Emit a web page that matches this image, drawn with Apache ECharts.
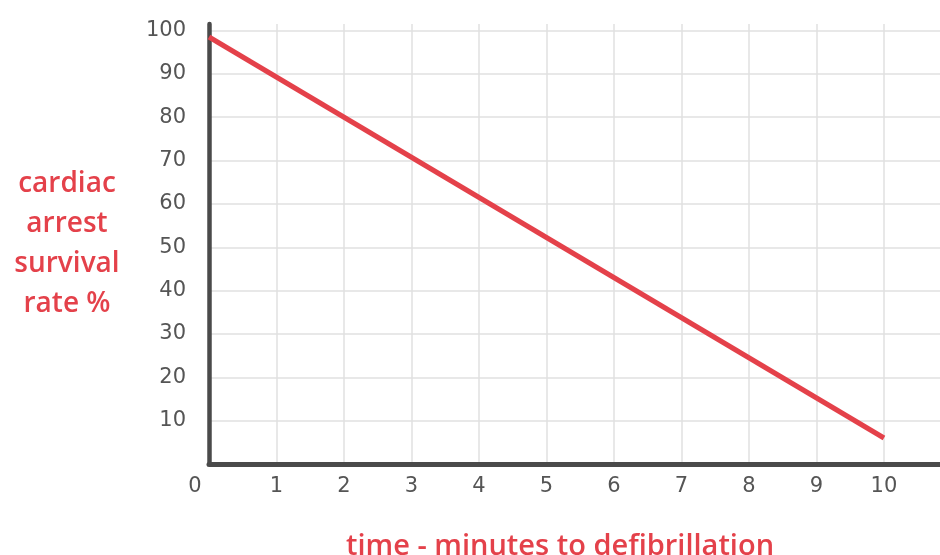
<!DOCTYPE html>
<html>
<head>
<meta charset="utf-8">
<script src="https://cdn.jsdelivr.net/npm/echarts@6/dist/echarts.min.js"></script>
<style>
html,body{margin:0;padding:0;background:#fff;}
#chart{width:940px;height:555px;}
</style>
</head>
<body>
<div id="chart"></div>
<script>
// Data
const minutes = [0, 10];
const survival = [98.5, 6];
const yTicks = [10, 20, 30, 40, 50, 60, 70, 80, 90, 100];
const xTicks = [0, 1, 2, 3, 4, 5, 6, 7, 8, 9, 10];
const xTitle = 'time - minutes to defibrillation';
const yTitle = 'cardiac\narrest\nsurvival\nrate %';

const red = '#e4414a';
const axisDark = '#4a4a4a';
const labelGray = '#555555';
const gridGray = '#e0e0e0';
const numFont = 'DejaVu Sans';

const chart = echarts.init(document.getElementById('chart'));
chart.setOption({
  animation: false,
  backgroundColor: '#ffffff',
  grid: { left: 209, right: 0, top: 24, bottom: 91, containLabel: false, outerBoundsMode: 'none' },
  xAxis: {
    type: 'value',
    min: 0,
    max: 10.83,
    interval: 1,
    name: xTitle,
    nameLocation: 'middle',
    nameGap: 66,
    nameTextStyle: {
      color: red, fontSize: 29, fontFamily: 'Open Sans', fontWeight: 600,
      lineHeight: 34, padding: [0, 29, 0, 0]
    },
    axisLine: { show: true, onZero: false, lineStyle: { color: axisDark, width: 5 } },
    axisTick: { show: false },
    splitLine: { show: true, showMaxLine: false, lineStyle: { color: gridGray, width: 1.5 } },
    axisLabel: {
      showMaxLabel: false,
      margin: 12,
      color: labelGray,
      fontSize: 21,
      fontFamily: numFont,
      formatter: function (v) {
        if (xTicks.indexOf(v) < 0) return '';
        return v === 0 ? '{z|0}' : String(v);
      },
      rich: { z: { fontSize: 21, fontFamily: numFont, color: labelGray, padding: [0, 28, 0, 0] } }
    }
  },
  yAxis: {
    type: 'value',
    min: 0,
    max: 101.5,
    interval: 10,
    name: yTitle,
    nameLocation: 'middle',
    nameRotate: 0,
    nameGap: 142,
    nameTextStyle: {
      color: red, fontSize: 28, fontFamily: 'Open Sans', fontWeight: 600,
      lineHeight: 40, align: 'center', padding: [0, 0, 16, 0]
    },
    axisLine: { show: true, onZero: false, lineStyle: { color: axisDark, width: 4.5 } },
    axisTick: { show: false },
    splitLine: { show: true, showMinLine: false, showMaxLine: false, lineStyle: { color: gridGray, width: 1.5 } },
    axisLabel: {
      showMaxLabel: false,
      showMinLabel: false,
      margin: 23,
      color: labelGray,
      fontSize: 21,
      fontFamily: numFont,
      padding: [0, 0, 10, 0],
      formatter: function (v) { return yTicks.indexOf(v) < 0 ? '' : String(v); }
    }
  },
  series: [{
    type: 'line',
    data: minutes.map((m, i) => [m, survival[i]]),
    symbol: 'none',
    lineStyle: { color: red, width: 5 },
    z: 3
  }]
});
</script>
</body>
</html>
